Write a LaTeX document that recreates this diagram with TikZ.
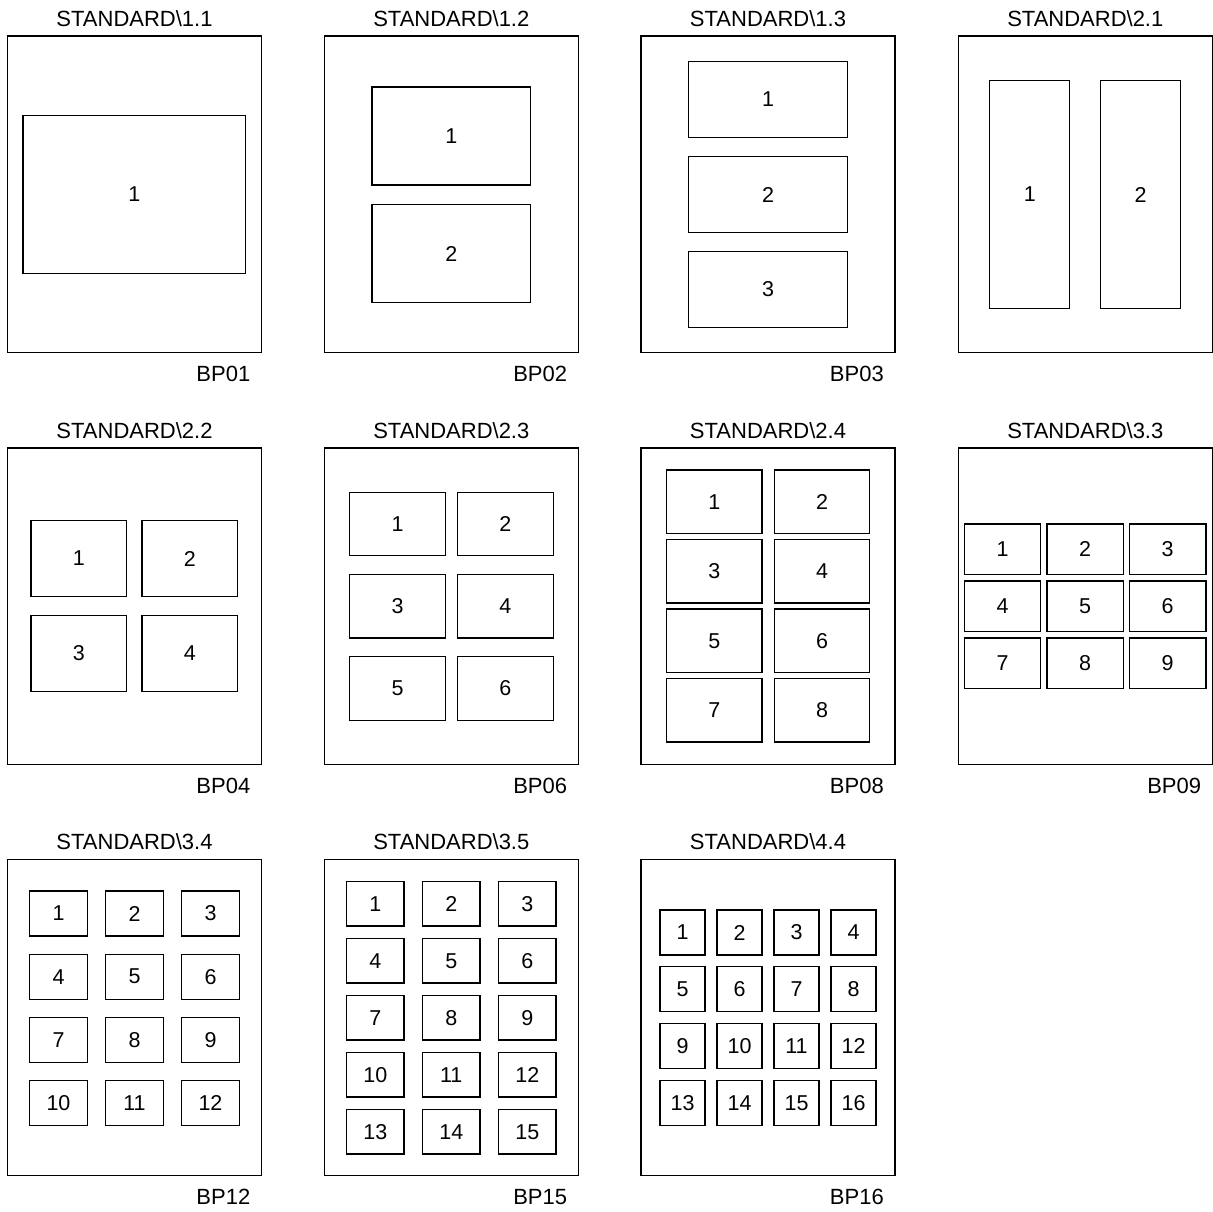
\documentclass[tikz,border=0pt]{standalone}
\usepackage{fontspec}
\setmainfont{Liberation Sans}
\tikzset{
  pagebox/.style={draw=black, line width=1.3pt, minimum width=254, minimum height=316.5, inner sep=0pt, outer sep=0pt},
  cellbox/.style={draw=black, line width=1.3pt, inner sep=0pt, outer sep=0pt, font=\fontsize{21.5}{24}\selectfont},
  pagetitle/.style={inner sep=0pt, anchor=base, font=\fontsize{22}{24}\selectfont},
  pagecode/.style={inner sep=0pt, anchor=base east, font=\fontsize{22}{24}\selectfont}
}
% #1 page id, #2 cols, #3 rows, #4 first x centre, #5 first y centre, #6 x pitch, #7 y pitch, #8 width, #9 height
\newcommand\LayoutGrid[9]{%
  \foreach \rr in {1,...,#3} {%
    \foreach \cc in {1,...,#2} {%
      \pgfmathtruncatemacro\nn{(\rr-1)*#2+\cc}%
      \node[cellbox, minimum width=#8, minimum height=#9] (#1-\nn) at ({#4+(\cc-1)*#6},{#5+(\rr-1)*#7}) {\nn};
    }%
  }%
}
% #1 page id, #2 centre x, #3 centre y, #4 title, #5 code
\newcommand\LayoutPage[5]{%
  \node[pagebox] (#1) at (#2,#3) {};
  \node[pagetitle] (#1-title) at ([yshift=9.5pt]#1.north) {#4};
  \if\relax\detokenize{#5}\relax\else
    \node[pagecode] (#1-code) at ([xshift=-11pt,yshift=-28.5pt]#1.south east) {#5};
  \fi
}
\begin{document}
\begin{tikzpicture}[x=1pt,y=-1pt]
\useasboundingbox (0,0) rectangle (1213,1212);
% row 1
\LayoutPage{pa}{134.5}{194.25}{STANDARD\textbackslash 1.1}{BP01}
\LayoutPage{pb}{451.3}{194.25}{STANDARD\textbackslash 1.2}{BP02}
\LayoutPage{pc}{768}{194.25}{STANDARD\textbackslash 1.3}{BP03}
\LayoutPage{pd}{1085.3}{194.25}{STANDARD\textbackslash 2.1}{}
% row 2
\LayoutPage{pe}{134.5}{606.25}{STANDARD\textbackslash 2.2}{BP04}
\LayoutPage{pf}{451.3}{606.25}{STANDARD\textbackslash 2.3}{BP06}
\LayoutPage{pg}{768}{606.25}{STANDARD\textbackslash 2.4}{BP08}
\LayoutPage{ph}{1085.3}{606.25}{STANDARD\textbackslash 3.3}{BP09}
% row 3
\LayoutPage{pi}{134.5}{1017.55}{STANDARD\textbackslash 3.4}{BP12}
\LayoutPage{pj}{451.3}{1017.55}{STANDARD\textbackslash 3.5}{BP15}
\LayoutPage{pk}{768}{1017.55}{STANDARD\textbackslash 4.4}{BP16}
% cells
\LayoutGrid{pa}{1}{1}{134.25}{194.5}{0}{0}{222.5}{158}
\LayoutGrid{pb}{1}{2}{451.25}{136}{0}{117.5}{158.5}{98}
\LayoutGrid{pc}{1}{3}{768}{99.5}{0}{95}{159}{76}
\LayoutGrid{pd}{2}{1}{1029.75}{194.5}{110.75}{0}{80}{228}
\LayoutGrid{pe}{2}{2}{78.75}{558.5}{111}{95}{95.5}{76}
\LayoutGrid{pf}{2}{3}{397.5}{524}{107.75}{82.25}{96}{63.5}
\LayoutGrid{pg}{2}{4}{714.25}{501.75}{107.75}{69.5}{95.5}{63.5}
\LayoutGrid{ph}{3}{3}{1002.5}{549.25}{82.6}{57}{76.5}{50.5}
\LayoutGrid{pi}{3}{4}{58.5}{913.5}{76}{63.17}{58}{45}
\LayoutGrid{pj}{3}{5}{375.25}{903.75}{76}{57}{57.5}{44.5}
\LayoutGrid{pk}{4}{4}{682.5}{932.5}{57}{56.83}{45}{45}
\end{tikzpicture}
\end{document}
